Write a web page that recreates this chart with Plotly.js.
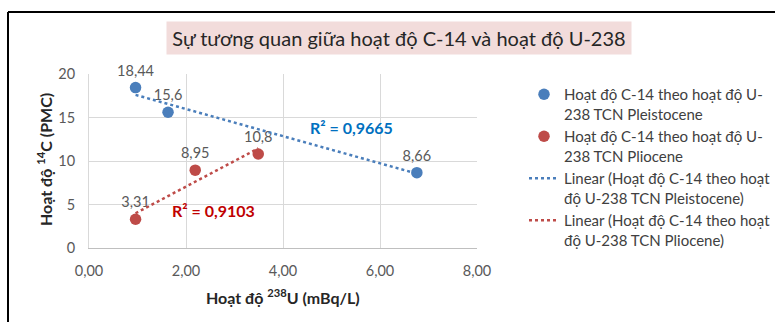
<!DOCTYPE html>
<html>
<head>
<meta charset="utf-8">
<script src="https://cdn.plot.ly/plotly-3.0.1.min.js"></script>
<style>
  html, body { margin: 0; padding: 0; background: #ffffff; }
  #chart { width: 775px; height: 322px; }
</style>
</head>
<body>
<div id="chart"></div>
<script>
// ---- Data ----
const pleistoceneU = [0.96, 1.63, 6.76];
const pleistoceneC = [18.44, 15.6, 8.66];
const plioceneU = [0.96, 2.19, 3.49];
const plioceneC = [3.31, 8.95, 10.8];

const pleistoceneLabels = ['18,44', '15,6', '8,66'];
const plioceneLabels = ['3,31', '8,95', '10,8'];

const seriesNames = [
  'Hoạt độ C-14 theo hoạt độ U-<br>238 TCN Pleistocene',
  'Hoạt độ C-14 theo hoạt độ U-<br>238 TCN Pliocene',
  'Linear (Hoạt độ C-14 theo hoạt<br>độ U-238 TCN Pleistocene)',
  'Linear (Hoạt độ C-14 theo hoạt<br>độ U-238 TCN Pliocene)'
];
const r2Pleistocene = 'R² = 0,9665';
const r2Pliocene = 'R² = 0,9103';
const r2PleistocenePos = [5.42, 13.9];
const r2PliocenePos = [2.57, 4.26];

const xTicks = [0, 2, 4, 6, 8];
const yTicks = [0, 5, 10, 15, 20];

const titleText = 'Sự tương quan giữa hoạt độ C-14 và hoạt độ U-238';
const xTitle = 'Hoạt độ <sup>238</sup>U (mBq/L)';
const yTitle = 'Hoạt độ <sup>14</sup>C (PMC)';

// ---- Styles ----
const BLUE = '#4a7ebb';
const RED = '#be4b48';
const FONT = 'Lato, "Open Sans", sans-serif';

function linFit(xs, ys) {
  const n = xs.length;
  const mx = xs.reduce((a, b) => a + b, 0) / n;
  const my = ys.reduce((a, b) => a + b, 0) / n;
  let sxy = 0, sxx = 0;
  for (let i = 0; i < n; i++) { sxy += (xs[i] - mx) * (ys[i] - my); sxx += (xs[i] - mx) ** 2; }
  const m = sxy / sxx, b = my - m * mx;
  const x0 = Math.min(...xs), x1 = Math.max(...xs);
  return { x: [x0, x1], y: [m * x0 + b, m * x1 + b] };
}
const fitA = linFit(pleistoceneU, pleistoceneC);
const fitB = linFit(plioceneU, plioceneC);

const labelFont = { family: FONT, size: 14.5, color: '#595959' };

const traces = [
  {
    x: pleistoceneU, y: pleistoceneC, type: 'scatter', mode: 'markers+text',
    name: seriesNames[0], text: pleistoceneLabels, textposition: 'top center',
    textfont: labelFont, marker: { color: BLUE, size: 11.5 }, cliponaxis: false
  },
  {
    x: plioceneU, y: plioceneC, type: 'scatter', mode: 'markers+text',
    name: seriesNames[1], text: plioceneLabels, textposition: 'top center',
    textfont: labelFont, marker: { color: RED, size: 11.5 }, cliponaxis: false
  },
  {
    x: fitA.x, y: fitA.y, type: 'scatter', mode: 'lines', name: seriesNames[2],
    line: { color: BLUE, width: 2.5, dash: 'dot' }
  },
  {
    x: fitB.x, y: fitB.y, type: 'scatter', mode: 'lines', name: seriesNames[3],
    line: { color: RED, width: 2.5, dash: 'dot' }
  }
];

const L = 89, R = 477, T = 74, B = 248;
const px = v => (v - L) / (R - L);
const py = v => (B - v) / (B - T);

const layout = {
  width: 775, height: 322,
  margin: { l: L, r: 775 - R, t: T, b: 322 - B, pad: 0, autoexpand: false },
  paper_bgcolor: '#ffffff', plot_bgcolor: '#ffffff',
  font: { family: FONT, size: 14, color: '#595959' },
  showlegend: true,
  legend: {
    x: px(524), y: py(78), xanchor: 'left', yanchor: 'top',
    font: { family: FONT, size: 15, color: '#404040' },
    valign: 'top', itemwidth: 30, bgcolor: 'rgba(0,0,0,0)'
  },
  xaxis: {
    range: [0, 8], tickvals: xTicks, tickformat: '.2f',
    showgrid: true, gridcolor: '#d9d9d9', gridwidth: 1,
    showline: true, linecolor: '#bfbfbf', linewidth: 1, mirror: false,
    zeroline: false, ticks: '', ticklabelstandoff: 10,
    tickfont: { family: FONT, size: 14.5, color: '#595959' }
  },
  yaxis: {
    range: [0, 20], tickvals: yTicks,
    showgrid: true, gridcolor: '#d9d9d9', gridwidth: 1,
    showline: true, linecolor: '#d9d9d9', linewidth: 1,
    zeroline: false, ticks: '', ticklabelstandoff: 10,
    tickfont: { family: FONT, size: 14.5, color: '#595959' }
  },
  separators: ',.',
  annotations: [
    {
      xref: 'paper', yref: 'paper', x: px(399), y: py(38), xanchor: 'center', yanchor: 'middle',
      text: titleText, showarrow: false, bgcolor: '#f2dcdb', width: 462, height: 30,
      font: { family: FONT, size: 20, color: '#262626' }
    },
    {
      xref: 'paper', yref: 'paper', x: px(283), y: py(296), xanchor: 'center', yanchor: 'middle',
      text: '<b>' + xTitle + '</b>', showarrow: false,
      font: { family: FONT, size: 16, color: '#262626' }
    },
    {
      xref: 'paper', yref: 'paper', x: px(44), y: py(160), xanchor: 'center', yanchor: 'middle',
      text: '<b>' + yTitle + '</b>', showarrow: false, textangle: -90,
      font: { family: FONT, size: 16, color: '#262626' }
    },
    {
      xref: 'x', yref: 'y', x: r2PleistocenePos[0], y: r2PleistocenePos[1],
      text: '<b>' + r2Pleistocene + '</b>', showarrow: false,
      font: { family: FONT, size: 16, color: '#0070c0' }
    },
    {
      xref: 'x', yref: 'y', x: r2PliocenePos[0], y: r2PliocenePos[1],
      text: '<b>' + r2Pliocene + '</b>', showarrow: false,
      font: { family: FONT, size: 16, color: '#c00000' }
    }
  ],
  shapes: [
    { type: 'line', xref: 'paper', yref: 'paper', x0: px(8), x1: px(776), y0: py(12), y1: py(12),
      line: { color: '#000000', width: 2 } },
    { type: 'line', xref: 'paper', yref: 'paper', x0: px(8), x1: px(8), y0: py(12), y1: py(323),
      line: { color: '#000000', width: 2 } }
  ]
};

Plotly.newPlot('chart', traces, layout, { staticPlot: true, displayModeBar: false });
</script>
</body>
</html>
